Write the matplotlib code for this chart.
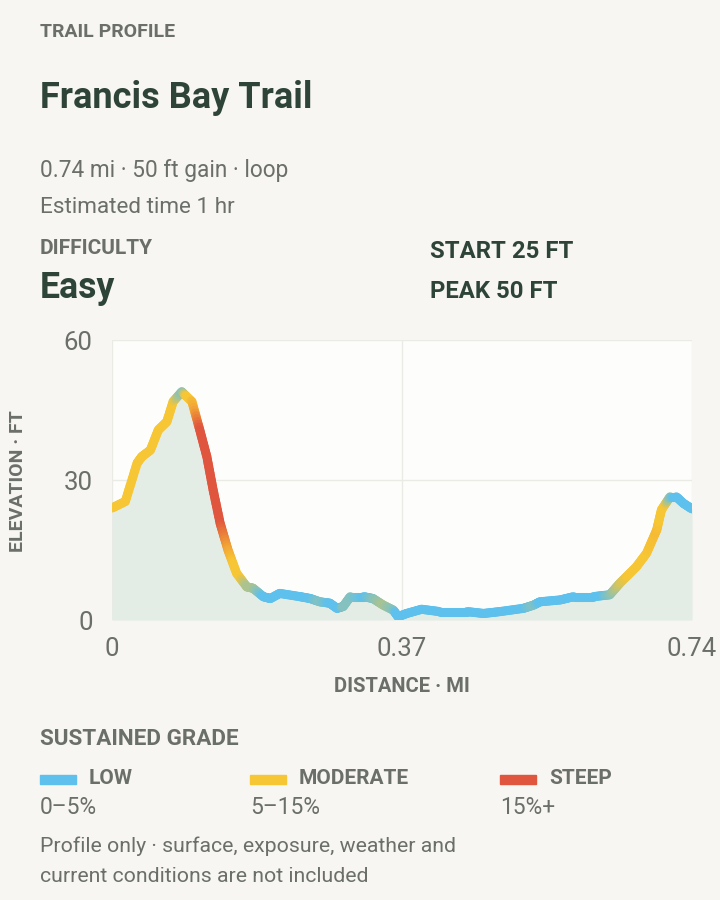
import matplotlib
matplotlib.use("Agg")
import matplotlib.pyplot as plt
import numpy as np
from matplotlib.collections import LineCollection
from matplotlib.colors import LinearSegmentedColormap

# profile
dist_mi = [0.000, 0.017, 0.032, 0.038, 0.049, 0.059, 0.070, 0.078, 0.089, 0.102,
           0.112, 0.121, 0.129, 0.138, 0.148, 0.159, 0.172, 0.180, 0.193, 0.202,
           0.214, 0.240, 0.253, 0.265, 0.278, 0.287, 0.295, 0.304, 0.321, 0.333,
           0.346, 0.359, 0.365, 0.376, 0.395, 0.418, 0.453, 0.474, 0.495, 0.525,
           0.538, 0.546, 0.572, 0.589, 0.614, 0.635, 0.648, 0.669, 0.682, 0.695,
           0.701, 0.712, 0.720, 0.729, 0.740]
elev_ft = [24.0, 25.4, 33.6, 35.0, 36.4, 40.7, 42.5, 46.8, 48.9, 46.8,
           40.7, 35.0, 27.9, 20.7, 15.0, 10.0, 7.1, 6.8, 5.0, 4.6,
           5.7, 5.0, 4.6, 3.9, 3.6, 2.5, 2.9, 5.0, 5.0, 4.6,
           3.2, 2.1, 0.7, 1.4, 2.3, 1.8, 1.8, 1.4, 1.8, 2.5,
           3.2, 3.9, 4.3, 5.0, 5.0, 5.4, 7.9, 11.4, 14.3, 19.3,
           23.6, 26.4, 26.4, 25.0, 23.8]
# sustained grade (%) at each point, estimated from the line colour
grade_pct = [7, 7, 8, 8, 8, 9, 8, 6, 3, 10,
             16, 18, 18, 16, 12, 7, 4, 4, 2, 1,
             1, 1, 2, 3, 2, 1, 3, 3, 2, 3,
             4, 3, 1, 1, 1, 1, 1, 1, 1, 2,
             3, 2, 1, 1, 1, 3, 5, 7, 9, 10,
             8, 3, 1, 1, 1]

x_ticks = [0, 0.37, 0.74]
x_labels = ["0", "0.37", "0.74"]
y_ticks = [0, 30, 60]

legend_names = ["LOW", "MODERATE", "STEEP"]
legend_ranges = ["0\u20135%", "5\u201315%", "15%+"]
legend_colors = ["#5ec0ec", "#f7c634", "#e0553e"]
legend_x = [40, 250, 500]

BG = "#f7f6f2"
DARK = "#2e4439"
GREY = "#6b6f69"
FONT = "Roboto"

plt.rcParams["font.family"] = [FONT, "DejaVu Sans"]

fig = plt.figure(figsize=(7.2, 9), dpi=100)
fig.patch.set_facecolor(BG)

def px(x, y):
    return x / 720, 1 - y / 900

# header texts
fig.text(*px(40, 32), "TRAIL PROFILE", fontsize=14, fontweight="bold", color=GREY, va="center")
fig.text(*px(40, 98), "Francis Bay Trail", fontsize=26, fontweight="bold", color=DARK, va="center")
fig.text(*px(40, 170), "0.74 mi \u00b7 50 ft gain \u00b7 loop", fontsize=16.3, color=GREY, va="center")
fig.text(*px(40, 208), "Estimated time 1 hr", fontsize=16.2, color=GREY, va="center")
fig.text(*px(40, 248), "DIFFICULTY", fontsize=15, fontweight="bold", color=GREY, va="center")
fig.text(*px(40, 288), "Easy", fontsize=25.7, fontweight="bold", color=DARK, va="center")
fig.text(*px(430, 251), "START 25 FT", fontsize=17.2, fontweight="bold", color=DARK, va="center")
fig.text(*px(430, 292), "PEAK 50 FT", fontsize=17.2, fontweight="bold", color=DARK, va="center")

# chart
ax = fig.add_axes([112 / 720, 1 - 620 / 900, 580 / 720, 280 / 900])
ax.set_facecolor("#fdfdfb")
for s in ax.spines.values():
    s.set_visible(False)

x = np.array(dist_mi)
y = np.array(elev_ft)
g = np.array(grade_pct, dtype=float)

ax.fill_between(x, 0, y, color="#e3ece5", lw=0, zorder=1)

cmap = LinearSegmentedColormap.from_list("grade", [
    (0.0, legend_colors[0]), (0.1, legend_colors[0]),
    (0.3, legend_colors[1]), (0.45, legend_colors[1]),
    (0.6, "#f2a536"), (0.8, legend_colors[2]), (1.0, legend_colors[2])])

# split every segment so the colour can blend along it
segs, vals = [], []
n_sub = 10
for i in range(len(x) - 1):
    t = np.linspace(0, 1, n_sub + 1)
    xs = x[i] + (x[i + 1] - x[i]) * t
    ys = y[i] + (y[i + 1] - y[i]) * t
    gs = g[i] + (g[i + 1] - g[i]) * t
    for k in range(n_sub):
        segs.append([(xs[k], ys[k]), (xs[k + 1], ys[k + 1])])
        vals.append((gs[k] + gs[k + 1]) / 2)
lc = LineCollection(segs, cmap=cmap, norm=plt.Normalize(0, 20), linewidths=6.5,
                    capstyle="round", joinstyle="round", zorder=3)
lc.set_array(np.array(vals))
ax.add_collection(lc)

ax.set_xlim(0, 0.74)
ax.set_ylim(0, 60)
ax.set_xticks(x_ticks)
ax.set_xticklabels(x_labels)
ax.set_yticks(y_ticks)
ax.grid(True, color="#ebebe6", lw=1)
ax.set_axisbelow(True)
ax.tick_params(length=0, labelsize=18.5, colors=GREY)
ax.tick_params(axis="x", pad=12)
ax.tick_params(axis="y", pad=14)
ax.set_xlabel("DISTANCE \u00b7 MI", fontsize=14.5, fontweight="bold", color=GREY, labelpad=12)
fig.text(*px(18, 481), "ELEVATION \u00b7 FT", fontsize=14, fontweight="bold", color=GREY,
         rotation=90, va="center", ha="center")

# legend
fig.text(*px(40, 739), "SUSTAINED GRADE", fontsize=16.2, fontweight="bold", color=GREY, va="center")
for name, rng, col, x0 in zip(legend_names, legend_ranges, legend_colors, legend_x):
    fig.patches.append(plt.Rectangle(px(x0, 784), 36 / 720, 9 / 900, color=col,
                                     transform=fig.transFigure, figure=fig))
    fig.text(*px(x0 + 49, 778), name, fontsize=15, fontweight="bold", color=GREY, va="center")
    fig.text(*px(x0, 808), rng, fontsize=16.4, color=GREY, va="center")

fig.text(*px(40, 846), "Profile only \u00b7 surface, exposure, weather and", fontsize=15.3, color=GREY, va="center")
fig.text(*px(40, 876), "current conditions are not included", fontsize=15.3, color=GREY, va="center")

fig.savefig("out.png", dpi=100, facecolor=BG)
